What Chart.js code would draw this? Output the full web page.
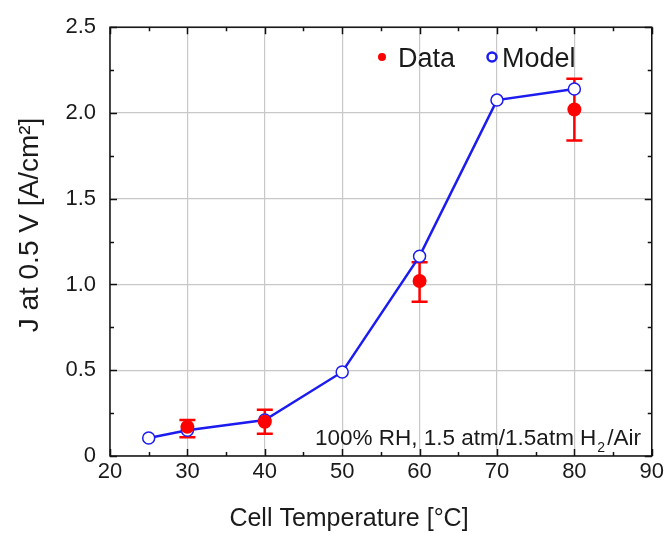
<!DOCTYPE html>
<html>
<head>
<meta charset="utf-8">
<title>J at 0.5 V vs Cell Temperature</title>
<style>
  html, body { margin: 0; padding: 0; background: #fff; }
  #wrap { position: relative; width: 667px; height: 533px; }
</style>
<script src="https://cdn.jsdelivr.net/npm/chart.js@4.4.1/dist/chart.umd.min.js"></script>
</head>
<body>
<div id="wrap"><canvas id="myChart" width="667" height="533"></canvas></div>
<script>
// measured points with error bars
var dataTemp = [30, 40, 60, 80];
var dataJ = [0.17, 0.20, 1.02, 2.02];
var dataErrLow = [0.11, 0.13, 0.90, 1.84];
var dataErrHigh = [0.21, 0.27, 1.13, 2.20];

// model curve
var modelTemp = [25, 30, 40, 50, 60, 70, 80];
var modelJ = [0.105, 0.15, 0.21, 0.49, 1.165, 2.075, 2.14];

// axis ticks
var xTicks = [20, 30, 40, 50, 60, 70, 80, 90];
var yTicks = [0, 0.5, 1.0, 1.5, 2.0, 2.5];
var xMinor = [25, 35, 45, 55, 65, 75, 85];
var yMinor = [0.25, 0.75, 1.25, 1.75, 2.25];

var FONT = "'Liberation Sans', Arial, sans-serif";
var TXT = '#1a1a1a';
var RED = '#ff0000';
var BLUE = '#1c1cf0';

function toPoints(xs, ys) {
  return xs.map(function (x, i) { return { x: x, y: ys[i] }; });
}

// error bars for the Data series
var errorBars = {
  id: 'errorBars',
  beforeDatasetsDraw: function (chart) {
    var ctx = chart.ctx, xs = chart.scales.x, ys = chart.scales.y;
    ctx.save();
    ctx.strokeStyle = RED;
    ctx.lineWidth = 2.5;
    for (var i = 0; i < dataTemp.length; i++) {
      var px = xs.getPixelForValue(dataTemp[i]);
      var lo = ys.getPixelForValue(dataErrLow[i]);
      var hi = ys.getPixelForValue(dataErrHigh[i]);
      ctx.beginPath();
      ctx.moveTo(px, lo); ctx.lineTo(px, hi);
      ctx.moveTo(px - 8, lo); ctx.lineTo(px + 8, lo);
      ctx.moveTo(px - 8, hi); ctx.lineTo(px + 8, hi);
      ctx.stroke();
    }
    ctx.restore();
  }
};

// box frame with inward ticks, legend, note, axis titles
var decor = {
  id: 'decor',
  afterDraw: function (chart) {
    var ctx = chart.ctx, a = chart.chartArea;
    var xs = chart.scales.x, ys = chart.scales.y;
    ctx.save();
    ctx.strokeStyle = '#111';
    ctx.lineWidth = 1.5;
    ctx.strokeRect(a.left, a.top, a.right - a.left, a.bottom - a.top);
    ctx.beginPath();
    xTicks.concat(xMinor).forEach(function (v) {
      var len = xTicks.indexOf(v) >= 0 ? 7 : 4;
      var p = Math.round(xs.getPixelForValue(v)) + 0.5;
      ctx.moveTo(p, a.bottom); ctx.lineTo(p, a.bottom - len);
      ctx.moveTo(p, a.top); ctx.lineTo(p, a.top + len);
    });
    yTicks.concat(yMinor).forEach(function (v) {
      var len = yTicks.indexOf(v) >= 0 ? 7 : 4;
      var p = Math.round(ys.getPixelForValue(v)) + 0.5;
      ctx.moveTo(a.left, p); ctx.lineTo(a.left + len, p);
      ctx.moveTo(a.right, p); ctx.lineTo(a.right - len, p);
    });
    ctx.stroke();

    // legend
    ctx.fillStyle = TXT;
    ctx.font = '27px ' + FONT;
    ctx.textBaseline = 'alphabetic';
    ctx.textAlign = 'left';
    ctx.fillText(chart.data.datasets[0].label, 398, 67);
    ctx.fillText(chart.data.datasets[1].label, 502, 67);
    ctx.fillStyle = RED;
    ctx.beginPath(); ctx.arc(382, 57, 4, 0, Math.PI * 2); ctx.fill();
    ctx.strokeStyle = BLUE; ctx.lineWidth = 2.5;
    ctx.beginPath(); ctx.arc(492, 57, 4.5, 0, Math.PI * 2); ctx.stroke();

    // condition note
    ctx.fillStyle = TXT;
    ctx.font = '22.5px ' + FONT;
    var x = 315, y = 445;
    var s1 = '100% RH, 1.5 atm/1.5atm H';
    ctx.fillText(s1, x, y);
    x += ctx.measureText(s1).width;
    ctx.font = '14px ' + FONT;
    ctx.fillText('2', x + 1, y + 7);
    x += ctx.measureText('2').width + 3;
    ctx.font = '22.5px ' + FONT;
    ctx.fillText('/Air', x, y);

    // axis titles
    ctx.font = '25px ' + FONT;
    ctx.textAlign = 'center';
    ctx.textBaseline = 'middle';
    ctx.fillText('Cell Temperature [\u00B0C]', 349, 519);
    ctx.translate(30, 225);
    ctx.rotate(-Math.PI / 2);
    ctx.font = '28px ' + FONT;
    ctx.fillText('J at 0.5 V [A/cm\u00B2]', 0, 0);
    ctx.restore();
  }
};

var ctx = document.getElementById('myChart').getContext('2d');
var chart = new Chart(ctx, {
  type: 'scatter',
  data: {
    datasets: [{
      label: 'Data',
      data: toPoints(dataTemp, dataJ),
      showLine: false,
      pointRadius: 7,
      pointBackgroundColor: RED,
      pointBorderColor: RED,
      pointBorderWidth: 0,
      order: 0
    }, {
      label: 'Model',
      data: toPoints(modelTemp, modelJ),
      showLine: true,
      borderColor: BLUE,
      borderWidth: 2.5,
      pointRadius: 6,
      pointBackgroundColor: '#fff',
      pointBorderColor: BLUE,
      pointBorderWidth: 1.5,
      order: 1
    }]
  },
  options: {
    responsive: false,
    animation: false,
    layout: { padding: { left: 0, right: 14, top: 25, bottom: 0 } },
    plugins: { legend: { display: false }, tooltip: { enabled: false } },
    scales: {
      x: {
        type: 'linear', min: 20, max: 90,
        afterFit: function (s) { s.height = 77; },
        afterBuildTicks: function (s) { s.ticks = xTicks.map(function (v) { return { value: v }; }); },
        grid: { color: '#c8c8c8', lineWidth: 1.2, drawTicks: false },
        border: { display: false },
        ticks: { font: { family: FONT, size: 22 }, color: TXT, padding: 3, maxRotation: 0 }
      },
      y: {
        min: 0, max: 2.5,
        afterFit: function (s) { s.width = 110; },
        afterBuildTicks: function (s) { s.ticks = yTicks.map(function (v) { return { value: v }; }); },
        grid: { color: '#c8c8c8', lineWidth: 1.2, drawTicks: false },
        border: { display: false },
        ticks: {
          font: { family: FONT, size: 22 }, color: TXT, padding: 14,
          callback: function (v) { return v === 0 ? '0' : v.toFixed(1); }
        }
      }
    }
  },
  plugins: [errorBars, decor]
});
</script>
</body>
</html>
